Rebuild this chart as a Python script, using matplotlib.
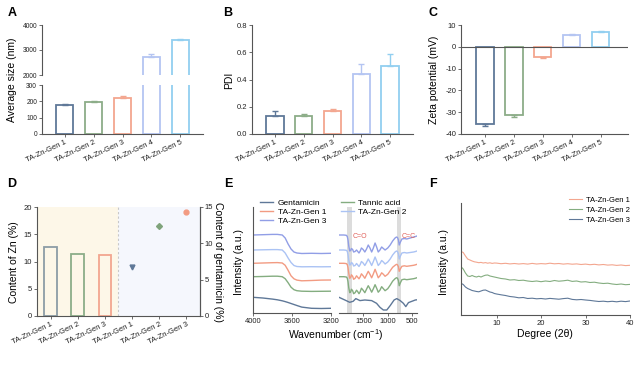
import numpy as np
import matplotlib.pyplot as plt

plt.rcParams['font.family'] = ['Liberation Sans', 'DejaVu Sans']
plt.rcParams['mathtext.default'] = 'regular'
plt.rcParams['axes.unicode_minus'] = False

# ---- data ----
gens = ['TA-Zn-Gen 1', 'TA-Zn-Gen 2', 'TA-Zn-Gen 3', 'TA-Zn-Gen 4', 'TA-Zn-Gen 5']
size_nm = [176, 196, 220, 2720, 3400]
size_err = [8, 7, 15, 130, 60]
pdi = [0.135, 0.13, 0.17, 0.44, 0.50]
pdi_err = [0.035, 0.02, 0.01, 0.075, 0.085]
zeta = [-35.2, -31.5, -4.6, 5.5, 6.9]
zeta_err = [1.2, 0.8, 0.7, 0.4, 0.5]

d_labels = ['TA-Zn-Gen 1', 'TA-Zn-Gen 2', 'TA-Zn-Gen 3'] * 2
zn_content = [12.6, 11.4, 11.2]
gen_content = [6.7, 12.4, 14.3]

# FTIR, 4000-3200 region
wn_oh = [4000, 3900, 3800, 3750, 3700, 3670, 3640, 3610, 3580, 3550, 3500, 3400, 3300, 3200]
oh_gen3 = [0, 0.3, 0.6, 0.6, 0, -3, -9, -14, -17, -18, -18.5, -18.3, -18.5, -18.3]
oh_gen2 = [0, 0.2, 0.4, 0.4, 0, -3, -8, -12.5, -15.5, -16.5, -16.8, -16.7, -16.8, -16.7]
oh_gen1 = [0, 0.3, 0.6, 0.7, 0.3, -2, -7, -12.5, -15.5, -16.8, -17.5, -17.2, -16.8, -16.7]
oh_ta = [0, 0.2, 0.5, 0.5, 0, -2, -6, -10.5, -13, -14, -14.5, -14.7, -14.6, -14.5]
oh_genta = [0, -0.7, -1.8, -2.5, -3.5, -4.3, -5.2, -6.2, -7.2, -8.2, -9.8, -11, -11.2, -11]

# FTIR, fingerprint region
wn_fp = [2000, 1900, 1850, 1830, 1815, 1800, 1780, 1760, 1745, 1720, 1700, 1670, 1640, 1615,
         1590, 1565, 1540, 1505, 1470, 1435, 1400, 1365, 1330, 1295, 1260, 1228, 1195, 1160,
         1125, 1090, 1055, 1000, 950, 900, 850, 820, 800, 780, 765, 740, 710, 660, 610, 540,
         470, 430, 400]
fp_gen3 = [0, 0, -0.3, -1.5, -5, -11, -16, -15.5, -13.5, -14.5, -17, -16.5, -15, -16.5,
           -18, -16, -13, -14.5, -17, -14, -10, -13, -17, -13, -8, -12, -17, -15,
           -12, -13.5, -15, -13, -10, -6, -3, -2, -2.5, -5, -10, -7, -4, -3.5, -4, -3,
           -2, -1.5, -1]
fp_gen2 = [0, 0, -0.3, -1.3, -4.5, -10, -15, -14.5, -12.5, -13.5, -16, -15.5, -13.5, -15,
           -16.5, -14.5, -11.5, -13, -15.5, -12.5, -9, -12, -15.5, -11.5, -7, -11, -15.5, -13.5,
           -10.5, -12, -14, -12, -9, -5, -2, -1, -1.5, -4, -9, -6, -3, -2.5, -3, -2.5,
           -2, -1.5, -1]
fp_gen1 = [0, 0, -0.3, -1.3, -4.5, -10, -15, -14, -11.5, -13, -16, -15, -12.5, -14,
           -15.5, -13.5, -10.5, -12.5, -15, -11.5, -8, -11, -14.5, -10.5, -6, -10, -14.5, -12.5,
           -9.5, -11, -13, -11, -7.5, -4, -2, -1, -1.5, -3.5, -8, -5.5, -3, -2.5, -3, -2.5,
           -2, -1.5, -1]
fp_ta = [0, 0, -0.3, -1.5, -5, -11, -16, -15, -12.5, -14, -17, -16, -13.5, -15,
         -17, -15, -11.5, -13.5, -16, -12.5, -9, -12, -15.5, -12, -8, -11.5, -15.5, -13.5,
         -10, -12, -14, -12, -8.5, -4.5, -2, -1, -1.5, -4, -9, -6, -3, -2.5, -3, -2.5,
         -2, -1.5, -1]
wn_fp_genta = [2000, 1880, 1780, 1710, 1655, 1570, 1470, 1330, 1230, 1160, 1090, 1020, 950,
               870, 815, 745, 680, 630, 575, 505, 435, 400]
fp_genta = [0, -2.7, -5, -4, -1.3, -3.3, -2.7, -3.3, -6, -10, -12.7, -12.7, -8.3,
            -2.7, -1.3, -3.3, -6, -9.3, -5.3, -4, -2.7, -2.5]
ftir_names = ['TA-Zn-Gen 3', 'TA-Zn-Gen 2', 'TA-Zn-Gen 1', 'Tannic acid', 'Gentamicin']
ftir_offsets = [78, 63, 49.7, 36.3, 15.7]

# XRD
xrd_deg = [2, 2.5, 3, 3.5, 4, 4.5, 5, 5.5, 6, 6.5, 7, 7.5, 8, 8.5, 9, 9.5, 10,
           11, 12, 13, 14, 15, 16, 17, 18, 19, 20, 21, 22, 23, 24, 25, 26, 27, 28, 29,
           30, 31, 32, 33, 34, 35, 36, 37, 38, 39, 40]
xrd_gen1 = [14.5, 13.5, 10, 7, 6, 5, 4.2, 3.8, 3.3, 3.6, 3.0, 3.4, 2.8, 3.2, 2.6, 3.0, 2.9,
            2.3, 2.7, 2.1, 2.5, 2.0, 2.4, 1.9, 2.6, 2.0, 2.4, 2.1, 2.8, 2.2, 2.5, 1.9, 2.3,
            1.8, 2.1, 1.5, 1.9, 1.3, 1.7, 1.1, 1.5, 0.9, 1.2, 0.6, 1.0, 0.4, 0.7]
xrd_gen2 = [18.3, 16, 12, 9, 8.5, 9.5, 8.5, 8, 8.8, 8, 9, 9.8, 10, 9, 8.5, 8, 7.5,
            6.5, 6, 5, 5.3, 4.5, 4.8, 4, 3.5, 4, 3.3, 4, 3.5, 4.5, 3.8, 4.2, 4.8,
            3.6, 4, 3, 3.3, 2.5, 2.8, 2, 1.5, 1.8, 1, 0.5, 1, 0.3, 0.6]
xrd_gen3 = [18.7, 17.5, 15, 13.5, 12.5, 11.5, 11, 10.5, 10.2, 11, 11.8, 12, 11, 10, 9.5, 8.5, 8,
            7.2, 6.5, 5.5, 5, 4.2, 4.5, 3.5, 3.8, 3.2, 3.5, 3, 3.6, 3.2, 2.8, 3.4, 3.8,
            2.6, 2.2, 2.5, 2, 1.6, 1, 0.5, 0.8, 0.3, 0.7, 0.2, 0.8, 0.4, 1.0]
xrd_offsets = [49, 30, 13]

# ---- styling ----
C1, C2, C3, C4, C5 = '#5f7898', '#8cad88', '#f3a68f', '#b4c5f2', '#92cff0'
bar_colors = [C1, C2, C3, C4, C5]
AX = '#555555'
W, H = 640, 372


def rect(l, t, r, b):
    return [l / W, 1 - b / H, (r - l) / W, (b - t) / H]


def style(ax, fs=5.5):
    for s in ['top', 'right']:
        ax.spines[s].set_visible(False)
    for s in ['left', 'bottom']:
        ax.spines[s].set_color(AX)
        ax.spines[s].set_linewidth(0.8)
    ax.tick_params(length=2, width=0.6, color=AX, labelsize=fs, pad=1.5, labelcolor='#222222')


def open_bars(ax, vals, errs, colors, width=0.6):
    for i, (v, e, c) in enumerate(zip(vals, errs, colors)):
        ax.bar(i, v, width=width, facecolor='white', edgecolor=c, linewidth=1.3, zorder=2)
        yerr = [[0], [e]] if v >= 0 else [[e], [0]]
        ax.errorbar(i, v, yerr=yerr, color=c, capsize=2.5, elinewidth=1, capthick=1, zorder=3)


def cat_labels(ax, labels):
    ax.set_xticks(range(len(labels)))
    ax.set_xticklabels(labels, rotation=25, ha='right', rotation_mode='anchor', fontsize=5.5)


fig = plt.figure(figsize=(6.4, 3.72), dpi=100)

# ---- A: broken axis ----
axAt = fig.add_axes(rect(42, 25, 203, 75))
axAb = fig.add_axes(rect(42, 85, 203, 134))
for ax in (axAt, axAb):
    style(ax, fs=4.8)
    open_bars(ax, size_nm, size_err, bar_colors)
    ax.set_xlim(-0.78, 4.78)
axAt.set_ylim(2000, 4000)
axAt.set_yticks([2000, 3000, 4000])
axAt.spines['bottom'].set_visible(False)
axAt.set_xticks([])
axAb.set_ylim(0, 300)
axAb.set_yticks([0, 100, 200, 300])
cat_labels(axAb, gens)
fig.text(12 / W, 1 - 80 / H, 'Average size (nm)', rotation=90, ha='center', va='center', fontsize=7.5)

# ---- B ----
axB = fig.add_axes(rect(252, 25, 413, 134))
style(axB)
open_bars(axB, pdi, pdi_err, bar_colors)
axB.set_xlim(-0.8, 4.8)
axB.set_ylim(0, 0.8)
axB.set_yticks([0, 0.2, 0.4, 0.6, 0.8])
axB.set_yticklabels(['0.0', '0.2', '0.4', '0.6', '0.8'])
cat_labels(axB, gens)
fig.text(229 / W, 1 - 80 / H, 'PDI', rotation=90, ha='center', va='center', fontsize=7.5)

# ---- C ----
axC = fig.add_axes(rect(461, 25, 628, 134))
style(axC)
axC.axhline(0, color=AX, lw=0.8, zorder=4)
open_bars(axC, zeta, zeta_err, bar_colors)
axC.set_xlim(-0.83, 4.95)
axC.set_ylim(-40, 10)
axC.set_yticks([-40, -30, -20, -10, 0, 10])
cat_labels(axC, gens)
fig.text(434 / W, 1 - 80 / H, 'Zeta potential (mV)', rotation=90, ha='center', va='center', fontsize=7.5)

# ---- D ----
axD = fig.add_axes(rect(37, 207, 200, 316))
style(axD)
axD.spines['right'].set_visible(True)
axD.spines['right'].set_color(AX)
axD.spines['right'].set_linewidth(0.8)
axD.axvspan(-0.5, 2.5, color='#fdf7e8', zorder=0, lw=0)
axD.axvspan(2.5, 5.5, color='#f5f7fd', zorder=0, lw=0)
axD.axvline(2.5, color='#c8c8c8', lw=0.8, ls=(0, (2, 2)), zorder=1)
d_bar_colors = ['#8d9da6', C2, C3]
for i, (v, c) in enumerate(zip(zn_content, d_bar_colors)):
    axD.bar(i, v, width=0.47, facecolor='none', edgecolor=c, linewidth=1.3, zorder=2)
axD.set_xlim(-0.5, 5.5)
axD.set_ylim(0, 20)
axD.set_yticks([0, 5, 10, 15, 20])
cat_labels(axD, d_labels)
axD2 = axD.twinx()
axD2.set_position(rect(37, 207, 200, 316))
axD2.set_ylim(0, 15)
axD2.set_yticks([0, 5, 10, 15])
for s in ['top', 'left', 'bottom']:
    axD2.spines[s].set_visible(False)
axD2.spines['right'].set_color(AX)
axD2.spines['right'].set_linewidth(0.8)
axD2.tick_params(length=2, width=0.6, color=AX, labelsize=5.5, pad=1.5, labelcolor='#222222')
for x, v, m, c in zip([3, 4, 5], gen_content, ['v', 'D', 'o'], [C1, '#7fa37b', '#f29b82']):
    axD2.plot(x, v, marker=m, color=c, ms=3.5 if m != 'D' else 3, ls='none', zorder=3)
fig.text(14 / W, 1 - 262 / H, 'Content of Zn (%)', rotation=90, ha='center', va='center', fontsize=7.5)
fig.text(218 / W, 1 - 262 / H, 'Content of gentamicin (%)', rotation=270, ha='center', va='center', fontsize=7.5)

# ---- E: FTIR ----
ftir_colors = ['#919ee6', '#abc3f4', '#f29b82', '#84ad80', '#5f7898']
oh_curves = [oh_gen3, oh_gen2, oh_gen1, oh_ta, oh_genta]
fp_curves = [(wn_fp, fp_gen3), (wn_fp, fp_gen2), (wn_fp, fp_gen1), (wn_fp, fp_ta), (wn_fp_genta, fp_genta)]
axE1 = fig.add_axes(rect(253, 207, 331, 313))
axE2 = fig.add_axes(rect(339, 207, 417, 313))
style(axE1)
style(axE2)
axE2.spines['left'].set_visible(False)
lines = {}
for name, c, off, yo, (wx, yf) in zip(ftir_names, ftir_colors, ftir_offsets, oh_curves, fp_curves):
    ln, = axE1.plot(wn_oh, np.array(yo) + off, color=c, lw=1.0, solid_joinstyle='round')
    axE2.plot(wx, np.array(yf) + off, color=c, lw=1.0, solid_joinstyle='round')
    lines[name] = ln
axE1.set_xlim(4000, 3200)
axE1.set_xticks([4000, 3600, 3200])
axE2.set_xlim(2000, 400)
axE2.set_xticks([1500, 1000, 500])
for ax in (axE1, axE2):
    ax.set_ylim(0, 106)
    ax.set_yticks([])
axE2.axvspan(1725, 1835, color='#dcdcdc', lw=0, zorder=0)
axE2.axvspan(730, 815, color='#dcdcdc', lw=0, zorder=0)
axE2.text(1715, 77, 'C=O', color='#e0605a', fontsize=5, ha='left', va='center')
axE2.text(722, 77, 'C=C', color='#e0605a', fontsize=5, ha='left', va='center')
order = ['Gentamicin', 'TA-Zn-Gen 1', 'TA-Zn-Gen 3', 'Tannic acid', 'TA-Zn-Gen 2']
fig.legend([lines[n] for n in order], order, loc='upper left', bbox_to_anchor=(260 / W, 1 - 199 / H),
           ncol=2, frameon=False, fontsize=6, handlelength=1.5, handletextpad=0.6,
           columnspacing=1.8, labelspacing=0.15, borderaxespad=0, borderpad=0)
fig.text(239 / W, 1 - 262 / H, 'Intensity (a.u.)', rotation=90, ha='center', va='center', fontsize=7.5)
fig.text(336 / W, 1 - 335 / H, 'Wavenumber (cm$^{-1}$)', ha='center', va='center', fontsize=7.5)

# ---- F: XRD ----
axF = fig.add_axes(rect(461, 203, 630, 315))
style(axF)
for name, c, off, ys in zip(['TA-Zn-Gen 1', 'TA-Zn-Gen 2', 'TA-Zn-Gen 3'], [C3, '#84ad80', C1],
                            xrd_offsets, [xrd_gen1, xrd_gen2, xrd_gen3]):
    axF.plot(xrd_deg, np.array(ys) + off, color=c, lw=0.8, label=name)
axF.set_xlim(2, 40)
axF.set_ylim(0, 112)
axF.set_xticks([10, 20, 30, 40])
axF.set_yticks([])
axF.legend(loc='upper right', bbox_to_anchor=(1.0, 1.06), frameon=False, fontsize=5.5,
           handlelength=1.6, handletextpad=0.6, labelspacing=0.35, borderaxespad=0, borderpad=0)
fig.text(444 / W, 1 - 262 / H, 'Intensity (a.u.)', rotation=90, ha='center', va='center', fontsize=7.5)
fig.text(545 / W, 1 - 334 / H, 'Degree (2θ)', ha='center', va='center', fontsize=7.5)

# ---- panel letters ----
for letter, x, y in [('A', 12, 13), ('B', 228, 13), ('C', 433, 13),
                     ('D', 12, 184), ('E', 228, 184), ('F', 433, 184)]:
    fig.text(x / W, 1 - y / H, letter, fontsize=9, fontweight='bold', ha='center', va='center')

fig.savefig('out.png', dpi=100)
